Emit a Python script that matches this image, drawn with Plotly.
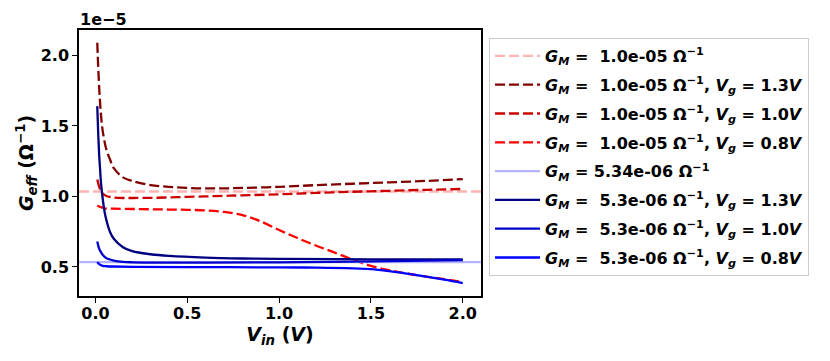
import plotly.graph_objects as go

# values in units of 1e-5 (Ohm^-1)
x_range = [-0.0895, 2.0995]

gm_hi = 1.035
gm_lo = 0.534

x_r13 = [0.01, 0.02, 0.03, 0.04, 0.06, 0.08, 0.1, 0.15, 0.2, 0.3, 0.4, 0.5, 0.6, 0.7, 0.8, 1.0, 1.2, 1.4, 1.6, 1.8, 2.0]
y_r13 = [2.09, 1.78, 1.58, 1.46, 1.33, 1.26, 1.20, 1.135, 1.11, 1.08, 1.068, 1.06, 1.057, 1.057, 1.06, 1.068, 1.08, 1.09, 1.10, 1.11, 1.123]

x_r10 = [0.01, 0.02, 0.03, 0.04, 0.06, 0.08, 0.1, 0.15, 0.2, 0.3, 0.4, 0.5, 0.6, 0.7, 0.8, 1.0, 1.2, 1.4, 1.6, 1.8, 2.0]
y_r10 = [1.12, 1.07, 1.035, 1.02, 1.003, 0.996, 0.992, 0.989, 0.989, 0.99, 0.993, 0.997, 1.0, 1.004, 1.008, 1.015, 1.025, 1.033, 1.04, 1.047, 1.053]

x_r08 = [0.01, 0.05, 0.1, 0.2, 0.3, 0.4, 0.5, 0.6, 0.7, 0.8, 0.9, 1.0, 1.1, 1.2, 1.3, 1.4, 1.5, 1.6, 1.7, 1.8, 1.9, 2.0]
y_r08 = [0.934, 0.916, 0.913, 0.911, 0.909, 0.907, 0.905, 0.901, 0.89, 0.868, 0.823, 0.762, 0.705, 0.652, 0.603, 0.553, 0.508, 0.477, 0.452, 0.432, 0.413, 0.394]

x_b13 = [0.01, 0.015, 0.02, 0.025, 0.03, 0.04, 0.05, 0.06, 0.08, 0.1, 0.15, 0.2, 0.3, 0.4, 0.6, 0.8, 1.0, 1.5, 2.0]
y_b13 = [1.64, 1.45, 1.30, 1.20, 1.10, 0.98, 0.89, 0.83, 0.746, 0.70, 0.64, 0.612, 0.59, 0.578, 0.566, 0.56, 0.557, 0.554, 0.553]

x_b10 = [0.01, 0.02, 0.03, 0.04, 0.06, 0.08, 0.1, 0.15, 0.2, 0.4, 0.6, 1.0, 1.4, 1.7, 2.0]
y_b10 = [0.68, 0.63, 0.605, 0.585, 0.562, 0.553, 0.545, 0.536, 0.533, 0.531, 0.531, 0.533, 0.538, 0.543, 0.548]

x_b08 = [0.01, 0.02, 0.04, 0.06, 0.1, 0.2, 0.5, 1.0, 1.2, 1.4, 1.5, 1.6, 1.7, 1.8, 1.9, 2.0]
y_b08 = [0.534, 0.52, 0.508, 0.505, 0.503, 0.501, 0.499, 0.497, 0.495, 0.49, 0.484, 0.47, 0.452, 0.432, 0.41, 0.386]

gm_txt = "<b><i>G<sub>M</sub></i> =  %s Ω<sup>−1</sup>%s</b>"
vg_txt = ", <i>V<sub>g</sub></i> = %s<i>V</i>"

dash = "10px,4px"
fig = go.Figure()


def add(x, y, name, color, dash_style, spline=True):
    fig.add_trace(go.Scatter(x=x, y=y, mode="lines", name=name, legendgroup=name,
                             line_shape="spline" if spline else "linear",
                             line=dict(color=color, width=2.3, dash=dash_style)))


add(x_range, [gm_hi, gm_hi], gm_txt % ("1.0e-05", ""), "#ffb3b3", dash, False)
add(x_r13, y_r13, gm_txt % ("1.0e-05", vg_txt % "1.3"), "#800000", dash)
add(x_r10, y_r10, gm_txt % ("1.0e-05", vg_txt % "1.0"), "#cc0000", dash)
add(x_r08, y_r08, gm_txt % ("1.0e-05", vg_txt % "0.8"), "#ff0000", dash)
add(x_range, [gm_lo, gm_lo], "<b><i>G<sub>M</sub></i> = 5.34e-06 Ω<sup>−1</sup></b>", "#b3b3ff", "solid", False)
add(x_b13, y_b13, gm_txt % ("5.3e-06", vg_txt % "1.3"), "#000080", "solid")
add(x_b10, y_b10, gm_txt % ("5.3e-06", vg_txt % "1.0"), "#0000cc", "solid")
add(x_b08, y_b08, gm_txt % ("5.3e-06", vg_txt % "0.8"), "#0000ff", "solid")

# page body adds an 8px offset, so margins are shifted to compensate
font = dict(family="DejaVu Sans", size=16, color="black", weight="bold")
fig.update_layout(
    width=830, height=361,
    margin=dict(l=71, r=357, t=22, b=73),
    plot_bgcolor="white", paper_bgcolor="white",
    font=font,
    legend=dict(x=1.02, y=0.97, xanchor="left", yanchor="top", itemwidth=45,
                bordercolor="#cccccc", borderwidth=1, font=dict(family="DejaVu Sans", size=16, color="black"),
                tracegroupgap=5),
    xaxis=dict(range=x_range, tickvals=[0.0, 0.5, 1.0, 1.5, 2.0], ticktext=["0.0", "0.5", "1.0", "1.5", "2.0"],
               showgrid=False, zeroline=False, showline=True, mirror=True, linecolor="black", linewidth=1.5,
               ticks="outside", ticklen=5, tickwidth=1.2, tickcolor="black", ticklabelstandoff=-3,
               title=dict(text="<b><i>V<sub>in</sub></i> (<i>V</i>)</b>", standoff=2)),
    yaxis=dict(range=[0.294, 2.18], tickvals=[0.5, 1.0, 1.5, 2.0], ticktext=["0.5", "1.0", "1.5", "2.0"],
               showgrid=False, zeroline=False, showline=True, mirror=True, linecolor="black", linewidth=1.5,
               ticks="outside", ticklen=5, tickwidth=1.2, tickcolor="black",
               title=dict(text="<b><i>G<sub>eff</sub></i> (Ω<sup>−1</sup>)</b>", standoff=2)),
)
fig.add_annotation(text="<b>1e−5</b>", xref="paper", yref="paper", x=0, y=1, xanchor="left", yanchor="bottom",
                   xshift=-1, yshift=-1, showarrow=False, font=dict(family="DejaVu Sans", size=16, color="black"))
fig.write_html("out.html")
